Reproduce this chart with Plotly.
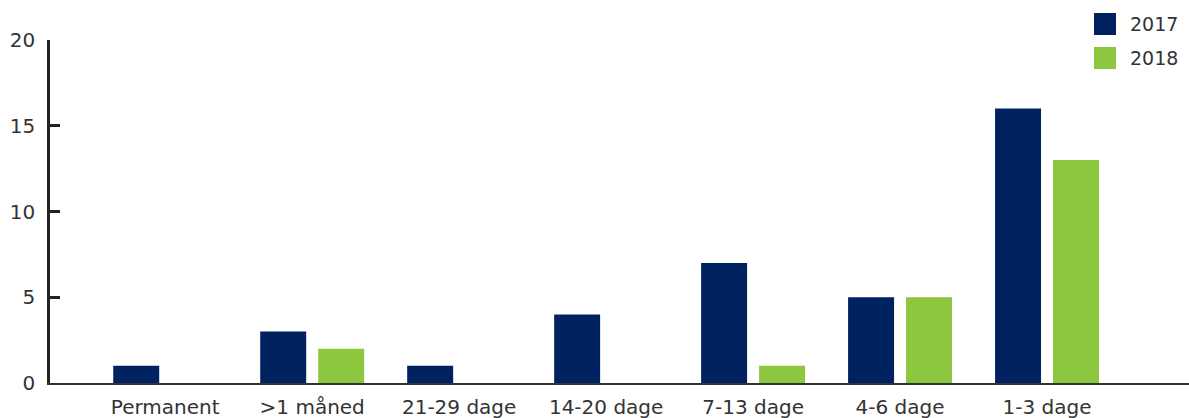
import plotly.graph_objects as go

categories = ["Permanent", ">1 måned", "21-29 dage", "14-20 dage", "7-13 dage", "4-6 dage", "1-3 dage"]
series_names = ["2017", "2018"]
values_2017 = [1, 3, 1, 4, 7, 5, 16]
values_2018 = [0, 2, 0, 0, 1, 5, 13]
y_ticks = [0, 5, 10, 15, 20]

colors = {"2017": "#002261", "2018": "#8DC63F"}
FONT = "DejaVu Sans"
TEXT = "#333333"
FS = 20

fig = go.Figure()
for name, vals in zip(series_names, [values_2017, values_2018]):
    fig.add_trace(go.Bar(
        x=categories, y=vals, name=name,
        marker=dict(color=colors[name], line=dict(width=0)),
        showlegend=False, hoverinfo="x+y+name",
    ))

# legend as squares + labels (paper coordinates)
for i, name in enumerate(series_names):
    y_top = 13 + i * 34
    fig.add_shape(type="rect", xref="paper", yref="paper",
                  x0=(1094 - 50) / 1139, x1=(1116 - 50) / 1139,
                  y0=(383 - y_top - 22) / 343, y1=(383 - y_top) / 343,
                  fillcolor=colors[name], line=dict(width=0))
    fig.add_annotation(xref="paper", yref="paper",
                       x=(1128 - 50) / 1139, y=(383 - y_top - 11) / 343,
                       text=name, showarrow=False, xanchor="left", yanchor="middle",
                       font=dict(family=FONT, size=FS - 1, color=TEXT))

fig.update_layout(
    width=1189, height=418,
    margin=dict(l=50, r=0, t=40, b=35),
    paper_bgcolor="white", plot_bgcolor="white",
    barmode="group", bargap=0.211, bargroupgap=0.207,
    font=dict(family=FONT, size=FS, color=TEXT),
    xaxis=dict(
        type="category", range=[-0.784, 6.966],
        showline=True, linecolor="#333333", linewidth=2,
        ticks="", showgrid=False, zeroline=False,
        ticklabelstandoff=5,
        tickfont=dict(family=FONT, size=FS, color=TEXT),
    ),
    yaxis=dict(
        range=[0, 20], tickvals=y_ticks,
        showline=True, linecolor="#222222", linewidth=2.5,
        ticks="inside", ticklen=10, tickwidth=2.5, tickcolor="#222222",
        showgrid=False, zeroline=False,
        ticklabelstandoff=8,
        tickfont=dict(family=FONT, size=FS, color=TEXT),
    ),
)

fig.write_html("out.html")
